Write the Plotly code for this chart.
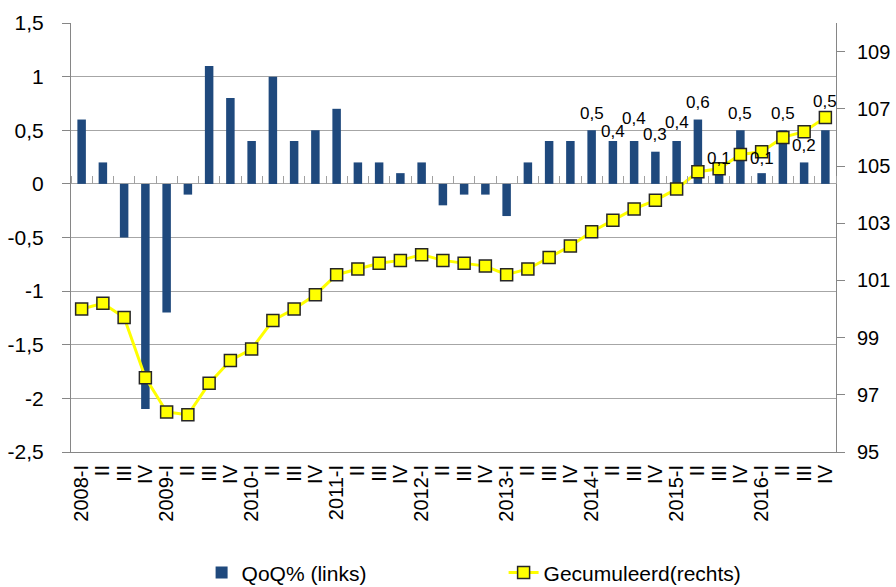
import plotly.graph_objects as go

# Quarter labels (2008-I .. 2016-IV)
quarter_labels = [
    "2008-I", "II", "III", "IV",
    "2009-I", "II", "III", "IV",
    "2010-I", "II", "III", "IV",
    "2011-I", "II", "III", "IV",
    "2012-I", "II", "III", "IV",
    "2013-I", "II", "III", "IV",
    "2014-I", "II", "III", "IV",
    "2015-I", "II", "III", "IV",
    "2016-I", "II", "III", "IV",
]

# Quarter-on-quarter growth (%), left axis
qoq = [0.6, 0.2, -0.5, -2.1,
       -1.2, -0.1, 1.1, 0.8,
       0.4, 1.0, 0.4, 0.5,
       0.7, 0.2, 0.2, 0.1,
       0.2, -0.2, -0.1, -0.1,
       -0.3, 0.2, 0.4, 0.4,
       0.5, 0.4, 0.4, 0.3,
       0.4, 0.6, 0.1, 0.5,
       0.1, 0.5, 0.2, 0.5]

# Cumulative index (2008-I = 100), right axis
cumulative = [100.0, 100.2, 99.7, 97.6,
              96.4, 96.3, 97.4, 98.2,
              98.6, 99.6, 100.0, 100.5,
              101.2, 101.4, 101.6, 101.7,
              101.9, 101.7, 101.6, 101.5,
              101.2, 101.4, 101.8, 102.2,
              102.7, 103.1, 103.5, 103.8,
              104.2, 104.8, 104.9, 105.4,
              105.5, 106.0, 106.2, 106.7]

# Value labels are shown from 2014-I onwards
first_labelled = 24
# vertical offset (px) of each value label above its bar top
label_shift = [17, 9, 22, 17, 18, 17, 15, 17, 15, 17, 17, 29]

left_ticks = [1.5, 1, 0.5, 0, -0.5, -1, -1.5, -2, -2.5]
left_tick_text = ["1,5", "1", "0,5", "0", "-0,5", "-1", "-1,5", "-2", "-2,5"]
right_ticks = [95, 97, 99, 101, 103, 105, 107, 109]

FONT = "Liberation Sans, Arial, sans-serif"
GRID = "#A6A6A6"
AXIS = "#868686"

x = list(range(len(quarter_labels)))

fig = go.Figure()

fig.add_trace(go.Bar(
    x=x, y=qoq, name="QoQ% (links)",
    marker=dict(color="#1F497D", line=dict(width=0)),
    width=0.4,
    yaxis="y",
))

fig.add_trace(go.Scatter(
    x=x, y=cumulative, name="Gecumuleerd(rechts)",
    mode="lines+markers",
    line=dict(color="#FFFF00", width=3),
    marker=dict(symbol="square", size=12, color="#FFFF00",
                line=dict(color="#262626", width=1.5)),
    yaxis="y2", cliponaxis=False,
))

# invisible helper so the zero-line tick axis is drawn
fig.add_trace(go.Scatter(
    x=[0], y=[0], xaxis="x2", yaxis="y", mode="markers",
    marker=dict(opacity=0), showlegend=False, hoverinfo="skip",
))

# value labels above the most recent bars
for k, i in enumerate(range(first_labelled, len(qoq))):
    fig.add_annotation(
        x=i, y=qoq[i], xref="x", yref="y",
        text=("%.1f" % qoq[i]).replace(".", ","),
        showarrow=False, yanchor="middle", yshift=label_shift[k],
        font=dict(family=FONT, size=17, color="black"),
    )

boundaries = [i + 0.5 for i in range(-1, len(quarter_labels))]

fig.update_layout(
    template="none",
    width=896, height=587,
    margin=dict(l=71, r=60, t=23, b=135, autoexpand=False),
    paper_bgcolor="white", plot_bgcolor="white",
    font=dict(family=FONT, size=21, color="black"),
    bargap=0.6,
    showlegend=True,
    legend=dict(
        orientation="h", xref="container", yref="container",
        x=0.225, xanchor="left", y=0.024, yanchor="middle",
        entrywidth=257, entrywidthmode="pixels",
        font=dict(family=FONT, size=21, color="black"),
        bgcolor="rgba(0,0,0,0)",
    ),
    xaxis=dict(
        range=[-0.5, len(quarter_labels) - 0.5],
        tickmode="array", tickvals=x, ticktext=quarter_labels,
        tickangle=-90, ticks="", showgrid=False, zeroline=False,
        showline=True, linecolor=AXIS, linewidth=1,
        tickfont=dict(family=FONT, size=20),
        ticklabelstandoff=4, automargin=False,
    ),
    xaxis2=dict(
        overlaying="x", anchor="free", position=(0 - (-2.5)) / (1.5 - (-2.5)),
        side="top",
        range=[-0.5, len(quarter_labels) - 0.5],
        tickmode="array", tickvals=boundaries,
        ticks="outside", ticklen=8, tickcolor="#A0A0A0", tickwidth=1,
        showticklabels=False, showgrid=False, zeroline=False, showline=False,
        automargin=False,
    ),
    yaxis=dict(
        range=[-2.5, 1.5],
        tickmode="array", tickvals=left_ticks, ticktext=left_tick_text,
        ticks="outside", ticklen=8, tickcolor=AXIS,
        showgrid=True, gridcolor=GRID, gridwidth=1,
        zeroline=False,
        showline=True, linecolor=AXIS, linewidth=1,
        ticklabelstandoff=14, automargin=False,
    ),
    yaxis2=dict(
        range=[95, 110], overlaying="y", side="right", anchor="x",
        tickmode="array", tickvals=right_ticks,
        ticks="outside", ticklen=8, tickcolor=AXIS,
        showgrid=False, zeroline=False,
        showline=True, linecolor=AXIS, linewidth=1,
        tickfont=dict(family=FONT, size=20),
        ticklabelstandoff=8, automargin=False,
    ),
)

fig.write_html("out.html")
